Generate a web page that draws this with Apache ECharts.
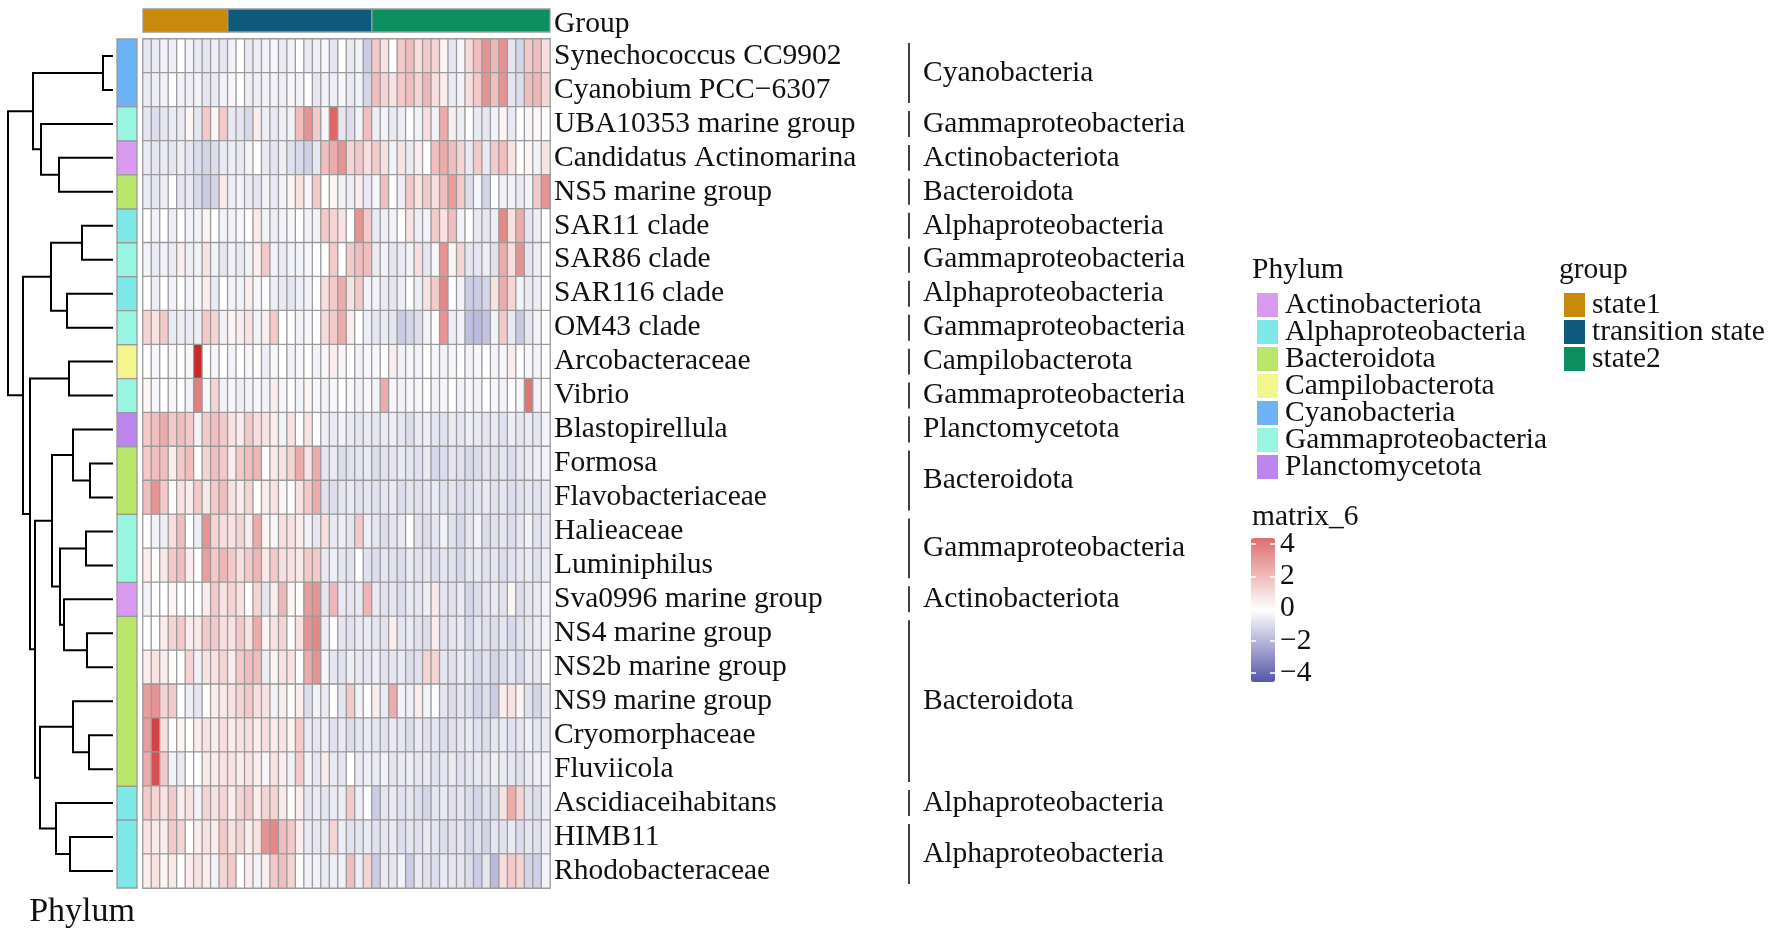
<!DOCTYPE html>
<html>
<head>
<meta charset="utf-8">
<script src="https://cdn.jsdelivr.net/npm/echarts/dist/echarts.min.js"></script>
<style>
  html, body { margin: 0; padding: 0; background: #fff; }
  #chart { width: 1772px; height: 935px; }
</style>
</head>
<body>
<div id="chart"></div>
<script>
// ---- data ----
const rowNames = [
  "Synechococcus CC9902", "Cyanobium PCC\u22126307", "UBA10353 marine group",
  "Candidatus Actinomarina", "NS5 marine group", "SAR11 clade", "SAR86 clade",
  "SAR116 clade", "OM43 clade", "Arcobacteraceae", "Vibrio", "Blastopirellula",
  "Formosa", "Flavobacteriaceae", "Halieaceae", "Luminiphilus",
  "Sva0996 marine group", "NS4 marine group", "NS2b marine group",
  "NS9 marine group", "Cryomorphaceae", "Fluviicola", "Ascidiaceihabitans",
  "HIMB11", "Rhodobacteraceae"
];

const rowPhylum = [
  "Cyanobacteria", "Cyanobacteria", "Gammaproteobacteria", "Actinobacteriota",
  "Bacteroidota", "Alphaproteobacteria", "Gammaproteobacteria",
  "Alphaproteobacteria", "Gammaproteobacteria", "Campilobacterota",
  "Gammaproteobacteria", "Planctomycetota", "Bacteroidota", "Bacteroidota",
  "Gammaproteobacteria", "Gammaproteobacteria", "Actinobacteriota",
  "Bacteroidota", "Bacteroidota", "Bacteroidota", "Bacteroidota",
  "Bacteroidota", "Alphaproteobacteria", "Alphaproteobacteria",
  "Alphaproteobacteria"
];

// row blocks used for the right-hand phylum labels (first row, last row)
const rowBlocks = [
  [0, 1], [2, 2], [3, 3], [4, 4], [5, 5], [6, 6], [7, 7], [8, 8], [9, 9],
  [10, 10], [11, 11], [12, 13], [14, 15], [16, 16], [17, 21], [22, 22], [23, 24]
];

const phylumNames = [
  "Actinobacteriota", "Alphaproteobacteria", "Bacteroidota", "Campilobacterota",
  "Cyanobacteria", "Gammaproteobacteria", "Planctomycetota"
];
const phylumColors = [
  "#D99BF2", "#7EE8E8", "#BAE66C", "#F3F68C", "#6DB4F4", "#97F5E1", "#BC86EE"
];

const groupNames = ["state1", "transition state", "state2"];
const groupColors = ["#C98A0C", "#0D5A7D", "#0B8F5F"];
const groupSizes = [10, 17, 21];

// scaled abundance, one row per taxon (10 state1 | 17 transition | 21 state2)
const expr = [
  [-0.6,-0.5,-0.3,-0.4,0,-0.3,-0.5,-0.6,-0.4,-0.6, -0.3,0,-0.5,-0.4,-0.3,-0.2,-0.5,-0.3,0,-0.5,-0.4,-0.2,-0.6,0,-0.5,-0.3,-1.2, 1.5,0.8,0,1.5,1.8,0.9,1.5,1.2,0.3,-0.6,-0.2,1,1.8,3,2,3,-0.6,-1,1.5,1.8,0.9],
  [-0.5,-0.4,-0.3,0,-0.3,-0.4,-0.3,-0.6,-0.5,-0.3, -0.2,0,-0.4,-0.4,-0.3,-0.3,-0.4,-0.2,-0.3,0,-0.6,-0.3,-0.4,-0.2,-0.5,-0.3,-1.0, 1.8,1.2,0.8,1.5,1.8,1.2,2,0.9,0.5,-0.5,-0.3,0.9,1.5,3,1.8,3,-0.6,-0.8,1.8,2,1.2],
  [-0.6,-0.8,-0.6,-0.5,-0.5,0.3,-0.6,1.5,0.3,1.5, -0.5,-0.6,-0.9,0.5,-0.4,-0.5,-0.4,-0.3,1.8,3,1.5,-0.2,4.2,-0.6,-0.8,-0.3,1.8, -0.4,-0.3,-0.5,-0.4,0,-0.3,0.9,-0.3,2.3,0.5,-0.4,0,-0.5,-0.6,-0.3,0.3,-0.5,0,-0.2,0.2,0],
  [-0.5,-0.6,-0.5,-0.6,-0.4,-0.6,-0.8,-1,-0.8,-0.5, -0.4,-0.5,-0.3,0,-0.5,-0.6,-0.4,-0.7,-0.9,-1.1,-0.6,1.8,2.3,3,1.2,1.5,0.9, 1.5,0.9,-0.3,0.8,-0.5,0.5,0,1.8,2.3,1.8,1.2,-0.5,1.5,-0.5,1.5,1.8,0.8,0,0.3,-0.3,0.8],
  [-0.5,-0.6,-0.4,0,-0.6,-0.5,-0.9,-1.2,-1.0,0.6, -0.4,-0.3,-0.5,-0.6,-0.3,-0.5,-0.3,0.3,0.8,-0.2,1.5,0,0.3,-0.3,-0.4,0.5,-0.5, -0.2,1.8,0,-0.4,1.5,0.8,1.5,0.9,1.8,2.7,1.5,-0.8,-0.2,-1,0,-0.3,-0.3,-0.5,-0.3,1.5,3],
  [0,-0.3,0,-0.4,0,-0.3,-0.3,0.3,0,-0.3, -0.3,-0.2,0,0.6,-0.3,-0.4,-0.3,-0.2,0,-0.3,-0.3,1.5,1.2,0.8,0,3,1.5, -0.5,-0.4,-0.3,0,0.8,-0.4,-0.3,1.5,0.8,1.8,-0.3,0,-0.5,-0.6,-0.4,3.3,0.8,2.3,-0.6,-0.4,0],
  [-0.3,-0.5,-0.3,-0.5,0.5,-0.4,-0.3,0.8,-0.3,-0.6, -0.3,-0.5,-0.3,0.5,1.5,-0.3,-0.5,-0.3,-0.3,-0.2,0,0,1.5,0,1.5,1.8,1.8, -0.5,-0.3,-0.6,-0.5,-0.3,0.9,-0.6,-0.2,3,0.3,1.2,-0.6,-0.6,-0.4,-0.7,2.3,0.9,3,-0.6,-0.4,0],
  [0,-0.4,0,-0.3,0,-0.3,-0.2,0.5,-0.5,0, -0.3,-0.3,0.5,-0.2,0,-0.4,-0.5,-0.6,-0.4,-0.3,0,0.9,1.5,2.3,0.8,1.5,-0.3, -0.3,-0.5,-0.6,-0.4,0,-0.4,0.8,1.5,3.3,0,-0.3,-1.2,-1.2,-1,0.8,2.3,1.2,-0.3,-0.5,-0.4,0],
  [1.2,0.8,1.5,-0.5,-0.4,-0.5,-0.4,1.5,1.2,-0.3, 0.3,0.5,0.8,-0.3,0.5,1.5,0,0,-0.3,-0.2,0,1,1.5,2.3,0.5,0,-0.4, -0.6,-0.5,-0.6,-1.2,-1,-0.8,-0.3,0,3,-0.4,-0.3,-1.5,-1.6,-1.4,-0.3,1.5,-0.5,-1.3,-0.6,-0.3,0],
  [0,-0.2,0,-0.2,0,-0.2,6,0,-0.2,0, -0.3,0,-0.2,0,-0.4,-0.2,0,-0.3,-0.2,0,-0.3,-0.2,0.5,-0.2,0,-0.3,-0.2, -0.2,0,0.5,-0.3,-0.2,-0.3,0,-0.2,-0.3,-0.2,0,-0.3,-0.2,0,-0.3,-0.2,0.5,0,-0.2,-0.3,0],
  [0.3,-0.2,0,-0.2,0,-0.3,3.5,-0.2,1.2,-0.3, -0.2,-0.4,-0.3,-0.2,-0.3,0.5,-0.2,0,-0.3,0.3,-0.2,-0.3,-0.2,0,-0.2,-0.3,-0.2, -0.3,2.3,-0.2,-0.3,-0.2,-0.2,0,-0.3,-0.2,0,-0.3,-0.2,-0.3,0,-0.2,-0.3,0,-0.2,3.8,-0.3,0],
  [1.5,1.8,2.3,1.5,1.8,1.5,-0.3,1.5,1.8,1.5, 0.8,0.5,1.5,0.9,0.8,0.5,-0.3,0.8,0,0.8,0,-0.4,-0.5,-0.3,-0.5,-0.6,-0.5, -0.6,-0.5,-0.4,-0.6,-0.8,-0.5,-0.4,-0.6,-0.7,-0.5,-0.6,-0.4,-0.5,-0.6,-0.5,-0.7,-0.4,-0.6,-0.5,-0.6,-0.3],
  [1.5,1.8,1.8,0.5,1.5,1.8,0,1.2,1.8,1.5, 0.5,1.5,1.8,2,0,0.6,0.8,1.2,2.3,0.8,2.3,-0.6,-0.5,-0.8,-0.7,-0.6,-0.5, -0.8,-0.7,-0.6,-0.5,-0.6,-0.7,-0.5,-0.9,-0.8,-0.6,-0.7,-0.9,-0.8,-0.6,-0.7,-0.6,-0.8,-0.6,-0.5,-0.4,-0.3],
  [1.8,3,1.5,0,0.8,0.5,1.5,0.6,1.5,1.8, 0.8,0.5,1.2,0,0.5,0.8,0.3,0,0.8,1.5,2.3,-0.7,-0.8,-0.6,-0.5,-0.7,-0.6, -0.7,-0.6,-0.5,-0.8,-0.6,-0.7,-0.6,-0.5,-0.7,-0.6,-0.8,-0.7,-0.6,-0.5,-0.7,-0.6,-0.8,-0.7,-0.6,-0.7,-0.5],
  [0,-0.3,-0.4,0.9,1.8,0,-0.4,3,1.2,0.9, 0.8,1.2,0.5,2.3,0.3,-0.2,0.9,0.8,0.5,-0.3,-0.6,0.9,-0.5,-0.4,-0.6,1.5,-0.4, -0.6,-0.8,-0.6,-0.5,0,-0.7,-0.8,-0.6,-0.3,-0.7,-0.9,-0.6,-0.3,-0.8,-0.7,-0.6,-0.8,-0.6,-0.3,-0.7,-0.5],
  [0.5,0,0.6,1.5,1.8,0.5,0,2.7,1.5,2, 1.5,0.9,1.5,2,0.6,1.5,0.9,0.8,0.6,1.5,1.5,-0.5,-0.4,-0.6,-0.7,0,-0.7, -0.8,-0.6,-0.7,-0.8,-0.5,-0.7,-0.6,-0.8,-0.6,-0.7,-0.9,-0.6,-0.5,-0.7,-0.6,-0.8,-0.7,-0.6,-0.5,-0.7,-0.4],
  [-0.3,0,0,0.3,0,0,0,0.5,1.5,0.8, 1.2,0.8,0,1.2,-0.6,0.5,2,0.3,0,2.7,3,-0.6,2,-0.5,-0.6,-0.5,2, -0.5,-0.7,-0.6,-0.8,-0.5,-0.6,-0.4,0.6,-0.6,-0.7,-0.5,-1,-0.8,-0.6,-0.5,-0.7,0.3,-0.8,-0.6,-0.5,-0.3],
  [0,0,0.5,1.2,1.5,0.5,0.6,1.5,1.5,0.9, 0.8,1.5,0.8,2.3,0.3,0.8,1.2,0,0.8,3,3.3,-0.4,0,-0.6,-0.7,-0.5,-0.5, -0.6,-0.7,0.5,-0.6,-0.5,-0.7,-0.8,0.5,-0.7,-0.6,-0.5,-0.9,-0.6,-0.7,-0.8,-0.6,-0.9,-0.7,-0.6,-0.5,-0.3],
  [0.5,0.8,0.5,0,0,1.2,-0.3,0.8,0.8,1.2, 0.5,1.5,1.8,1.8,-0.4,0.3,0.8,0.8,0,2.3,3,-0.2,-0.6,-0.7,-0.4,-0.5,-0.6, -0.4,-0.7,-0.6,-0.5,-0.8,-0.7,1.2,1.2,-0.6,-0.7,-0.5,-0.6,-0.9,-0.7,-1,-0.8,-0.6,-0.9,-0.5,-0.6,0],
  [2.7,3,1.2,1.5,0,-0.4,-0.6,0,0.5,0.6, 0.8,1.2,1.5,0.9,0.8,-0.3,0.5,0,0.5,-0.8,-0.3,-0.5,0,-0.6,1.5,-0.3,0, 0.5,-0.5,2.3,-0.3,-0.4,0.5,-0.3,0,-0.6,-0.8,-0.6,-0.7,-1,-0.8,-1.2,0.5,0.8,0.3,-0.7,-1,-0.5],
  [2.7,5.2,0.9,0,0.3,0,0.5,0.8,0.5,0.9, 0.5,0.8,0.9,0.5,0.9,0.5,0.8,0.3,1.5,-0.5,-0.6,-0.4,-0.7,-0.5,-0.8,-0.6,-0.5, -0.6,-0.7,-0.5,-0.6,-0.8,-0.5,-0.7,-0.6,-0.8,-0.7,-0.6,-0.5,-0.7,-0.8,-0.6,-0.5,-0.7,-0.6,-0.4,-0.6,-0.5],
  [2.3,4.8,1.5,-0.3,-0.5,0,0,0.6,0.5,0.8, 0.8,0.5,0.8,0.5,-0.2,0.8,0.5,-0.3,1.5,-0.3,-0.6,0.5,-0.5,-0.6,0,-0.5,-0.4, -0.5,-0.3,-0.6,-0.5,-0.4,-0.6,-0.5,-0.7,-0.6,-0.5,-0.7,-0.6,-0.5,-0.6,-0.4,-0.5,-0.6,-0.7,-0.5,-0.4,-0.3],
  [1.5,1.2,0.8,1.5,0.5,0.8,-0.3,1.2,0.8,1.2, 0.5,1.2,1.5,0.5,1.2,1.2,0.6,0,0.5,-0.6,-0.5,-0.6,-0.5,-0.4,1.5,-0.4,0, -1.2,-0.6,-0.5,-0.7,-0.6,-0.8,-1,-0.6,-0.5,-0.7,-0.6,-0.8,-1,-0.7,-0.9,0.8,2.3,1.2,-0.7,-0.8,-0.4],
  [0.8,0.6,0.5,1.5,1.2,0,0.5,0.8,0.5,1.5, 0.8,1.2,0.5,0.8,3,3.3,1.8,1.5,0.5,-0.5,-0.6,-0.5,1.2,-0.4,-0.7,-0.6,-0.5, -0.7,-0.6,-0.5,-0.8,-0.6,-0.7,-0.5,-0.6,-0.8,-0.7,-0.6,-0.9,-0.7,-1,-0.6,-0.7,-0.5,-0.8,-0.6,-0.7,-0.4],
  [0.5,0.8,0.3,0.6,0,0.5,0.8,0.5,-0.3,1.2, 1.5,0,0.5,-0.3,0.5,1.5,1.8,1.2,0,-0.3,-0.3,-0.5,-0.4,-0.3,1.8,-0.4,1.2, -1.2,-0.5,-0.6,-0.3,-1.2,-0.5,-0.7,-0.8,-0.5,-0.6,-0.6,-0.8,-1.2,-0.6,-1.6,0.9,1.5,1.2,-1,-1.1,-0.3]
];

// row dendrogram: [left, right, height]; a number is a leaf (row index)
const rowTree = [
  [[0, 1, 1.0], [2, [3, 4, 5.4], 7.2], 8.0],
  [
    [[5, 6, 3.1], [7, 8, 4.6], 6.2],
    [
      [9, 10, 4.4],
      [
        [
          [11, [12, 13, 2.3], 4.0],
          [[14, 15, 2.7], [16, [17, 18, 2.6], 4.9], 5.3],
          6.1
        ],
        [
          [19, [20, 21, 2.4], 4.0],
          [22, [23, 24, 4.3], 5.7],
          7.3
        ],
        7.8
      ],
      8.3
    ],
    9.0
  ],
  10.5
];
const treeMaxHeight = 10.5;

const legendTicks = { min: -4, max: 4, step: 2 };

(function () {
  // ---- layout ----
  const FONT = '"Liberation Serif", "Times New Roman", serif';
  const FS = 29.5;
  const TXT = "#111";
  const nRow = rowNames.length;
  const nCol = expr[0].length;
  const gridTop = 39, gridH = 849;
  const hmLeft = 143, hmWidth = 407;

  const byId = (id) => document.getElementById(id);

  function layoutTree(node, out) {
    if (typeof node === "number") return { pos: node, h: 0 };
    const a = layoutTree(node[0], out);
    const b = layoutTree(node[1], out);
    out.push([node[2], a.pos, b.pos, a.h, b.h]);
    return { pos: (a.pos + b.pos) / 2, h: node[2] };
  }
  const treeSegs = [];
  layoutTree(rowTree, treeSegs);

  const heatData = [];
  expr.forEach((row, r) => row.forEach((v, c) => heatData.push([c, r, v])));

  const colNames = [];
  const groupBlocks = [];
  let start = 0;
  groupSizes.forEach((n, g) => {
    for (let i = 0; i < n; i++) colNames.push(groupNames[g] + "_" + (i + 1));
    groupBlocks.push([start, start + n - 1, 0]);
    start += n;
  });

  const hiddenVal = (min, max, extra) =>
    Object.assign({ type: "value", min, max, show: false }, extra || {});

  const fmtMinus = (v) => (v < 0 ? "\u2212" + Math.abs(v) : String(v));

  const chart = echarts.init(byId("chart"), null, { renderer: "canvas" });

  const series = [];

  // dendrogram
  series.push({
    type: "custom",
    xAxisIndex: 0, yAxisIndex: 0,
    data: treeSegs,
    encode: { x: [0, 3, 4], y: [1, 2] },
    silent: true,
    renderItem(params, api) {
      const h = api.value(0), yl = api.value(1), yr = api.value(2);
      const hl = api.value(3), hr = api.value(4);
      return {
        type: "polyline",
        shape: { points: [api.coord([hl, yl]), api.coord([h, yl]), api.coord([h, yr]), api.coord([hr, yr])] },
        style: { stroke: "#000", lineWidth: 2, fill: null }
      };
    }
  });

  // phylum annotation, one series per phylum
  phylumNames.forEach((name, i) => {
    const blocks = rowBlocks.filter((b) => rowPhylum[b[0]] === name);
    series.push({
      type: "custom",
      name,
      xAxisIndex: 1, yAxisIndex: 1,
      itemStyle: { color: phylumColors[i] },
      data: blocks,
      encode: { y: [0, 1] },
      silent: true,
      renderItem(params, api) {
        const p1 = api.coord([0, api.value(0) - 0.5]);
        const p2 = api.coord([1, api.value(1) + 0.5]);
        return {
          type: "rect",
          shape: { x: p1[0], y: p1[1], width: p2[0] - p1[0], height: p2[1] - p1[1] },
          style: { fill: api.visual("color"), stroke: "#9a9a9a", lineWidth: 1.3 }
        };
      }
    });
  });

  // heatmap
  const heatIndex = series.length;
  series.push({
    type: "heatmap",
    xAxisIndex: 2, yAxisIndex: 2,
    data: heatData,
    itemStyle: { borderColor: "#9b9b9b", borderWidth: 1.3 },
    emphasis: { disabled: true },
    silent: true
  });

  // group annotation, one series per group
  groupNames.forEach((name, g) => {
    series.push({
      type: "custom",
      name,
      xAxisIndex: 3, yAxisIndex: 3,
      itemStyle: { color: groupColors[g] },
      data: [groupBlocks[g]],
      encode: { x: [0, 1], y: 2 },
      silent: true,
      renderItem(params, api) {
        const p1 = api.coord([api.value(0) - 0.5, 0]);
        const p2 = api.coord([api.value(1) + 0.5, 0]);
        const h = api.size([0, 1])[1];
        return {
          type: "rect",
          shape: { x: p1[0], y: p1[1] - h / 2, width: p2[0] - p1[0], height: h },
          style: { fill: api.visual("color"), stroke: "#9a9a9a", lineWidth: 1.3 }
        };
      }
    });
  });

  // right-hand block labels
  series.push({
    type: "custom",
    xAxisIndex: 4, yAxisIndex: 4,
    data: rowBlocks,
    encode: { y: [0, 1] },
    silent: true,
    renderItem(params, api) {
      const p1 = api.coord([0, api.value(0) - 0.5]);
      const p2 = api.coord([0, api.value(1) + 0.5]);
      return {
        type: "group",
        children: [
          {
            type: "line",
            shape: { x1: p1[0], y1: p1[1] + 4, x2: p1[0], y2: p2[1] - 4 },
            style: { stroke: "#000", lineWidth: 1.5 }
          },
          {
            type: "text",
            style: {
              text: rowPhylum[rowBlocks[params.dataIndex][0]],
              x: p1[0] + 14, y: (p1[1] + p2[1]) / 2,
              align: "left", verticalAlign: "middle",
              fontFamily: FONT, fontSize: FS, fill: TXT
            }
          }
        ]
      };
    }
  });

  // dummy target for the colour-bar legend
  const barIndex = series.length;
  series.push({ type: "scatter", xAxisIndex: 5, yAxisIndex: 5, data: [], silent: true });

  const legendText = { fontFamily: FONT, fontSize: FS, color: TXT, padding: [0, 0, 0, 2] };

  const option = {
    animation: false,
    backgroundColor: "#fff",
    grid: [
      { left: 8, width: 105, top: gridTop, height: gridH },            // dendrogram
      { left: 117, width: 20, top: gridTop, height: gridH },           // phylum bar
      { left: hmLeft, width: hmWidth, top: gridTop, height: gridH },   // heatmap
      { left: hmLeft, width: hmWidth, top: 9, height: 23 },            // group bar
      { left: 909, width: 200, top: gridTop, height: gridH },          // block labels
      { left: 1251, width: 24, top: 544, height: 129 }                 // colour bar axis
    ],
    xAxis: [
      hiddenVal(0, treeMaxHeight, { inverse: true, gridIndex: 0 }),
      hiddenVal(0, 1, { gridIndex: 1 }),
      { type: "category", data: colNames, show: false, gridIndex: 2 },
      hiddenVal(-0.5, nCol - 0.5, { gridIndex: 3 }),
      hiddenVal(0, 1, { gridIndex: 4 }),
      hiddenVal(0, 1, { gridIndex: 5 })
    ],
    yAxis: [
      hiddenVal(-0.5, nRow - 0.5, { inverse: true, gridIndex: 0 }),
      hiddenVal(-0.5, nRow - 0.5, { inverse: true, gridIndex: 1 }),
      {
        type: "category", data: rowNames, inverse: true, position: "right", gridIndex: 2,
        axisLine: { show: false }, axisTick: { show: false },
        axisLabel: { interval: 0, margin: 4, fontFamily: FONT, fontSize: FS, color: TXT }
      },
      {
        type: "category", data: ["Group"], position: "right", gridIndex: 3,
        axisLine: { show: false }, axisTick: { show: false },
        axisLabel: {
          interval: 0, margin: 4, formatter: (v) => "{g|" + v + "}",
          rich: { g: { fontFamily: FONT, fontSize: FS, color: TXT, padding: [7, 0, 0, 0] } }
        }
      },
      hiddenVal(-0.5, nRow - 0.5, { inverse: true, gridIndex: 4 }),
      {
        type: "value", gridIndex: 5, position: "left", z: 10,
        min: legendTicks.min, max: legendTicks.max, interval: legendTicks.step,
        axisLine: { show: false }, splitLine: { show: false }, axisLabel: { show: false },
        axisTick: { show: true, inside: true, length: 5, lineStyle: { color: "#fff", width: 1.5 } }
      },
      {
        type: "value", gridIndex: 5, position: "right", z: 10,
        min: legendTicks.min, max: legendTicks.max, interval: legendTicks.step,
        axisLine: { show: false }, splitLine: { show: false },
        axisTick: { show: true, inside: true, length: 5, lineStyle: { color: "#fff", width: 1.5 } },
        axisLabel: { margin: 5, fontFamily: FONT, fontSize: FS, color: TXT, formatter: fmtMinus }
      }
    ],
    visualMap: [
      {
        type: "continuous", show: false, seriesIndex: heatIndex,
        min: -6, max: 6,
        inRange: { color: ["#000080", "#FFFFFF", "#CD2626"] }
      },
      {
        type: "continuous", show: true, seriesIndex: barIndex,
        min: legendTicks.min, max: legendTicks.max,
        calculable: false, hoverLink: false, padding: 0,
        left: 1251, top: 538, itemWidth: 24, itemHeight: 144,
        inRange: { color: ["#5555AA", "#FFFFFF", "#DE6E6E"] }
      }
    ],
    legend: [
      {
        data: phylumNames, orient: "vertical", left: 1252, top: 285,
        icon: "rect", itemWidth: 21, itemHeight: 24, itemGap: -3, selectedMode: false,
        textStyle: legendText
      },
      {
        data: groupNames, orient: "vertical", left: 1559, top: 285,
        icon: "rect", itemWidth: 21, itemHeight: 24, itemGap: -3, selectedMode: false,
        textStyle: legendText
      }
    ],
    graphic: [
      { type: "text", x: 1252, y: 270, style: { text: "Phylum", fontFamily: FONT, fontSize: FS, fill: TXT, verticalAlign: "middle" } },
      { type: "text", x: 1559, y: 270, style: { text: "group", fontFamily: FONT, fontSize: FS, fill: TXT, verticalAlign: "middle" } },
      { type: "text", x: 1252, y: 517, style: { text: "matrix_6", fontFamily: FONT, fontSize: FS, fill: TXT, verticalAlign: "middle" } },
      { type: "text", x: 135, y: 912, style: { text: "Phylum", fontFamily: FONT, fontSize: 34, fill: TXT, align: "right", verticalAlign: "middle" } }
    ],
    series
  };

  chart.setOption(option);
})();
</script>
</body>
</html>
